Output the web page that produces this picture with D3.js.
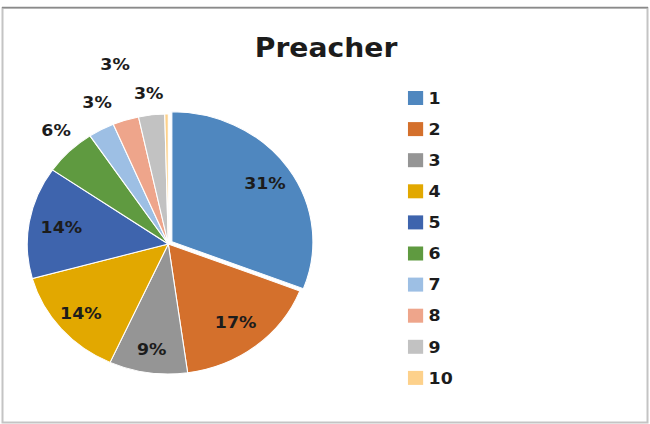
<!DOCTYPE html>
<html>
<head>
<meta charset="utf-8">
<script src="https://cdn.jsdelivr.net/npm/d3@7"></script>
<style>
  body { margin: 0; background: #fff; }
  svg text { font-family: "DejaVu Sans", Verdana, sans-serif; font-weight: bold; fill: #1c1c1c; }
</style>
</head>
<body>
<div id="chart"></div>
<script>
// chart values
var categories = ["1", "2", "3", "4", "5", "6", "7", "8", "9", "10"];
var values = [31, 17, 9, 14, 14, 6, 3, 3, 3, 0.4];
var colors = ["#4f87bf", "#d4702c", "#959595", "#e2a800", "#3e64ad", "#5f9a40",
              "#9dbfe4", "#eea58b", "#c2c2c2", "#fdd18b"];
var title = "Preacher";

var svgWidth = 650;
var svgHeight = 424;

// the original picture is stretched a bit horizontally
var stretch = 1.085;

var svg = d3.select("#chart")
    .append("svg")
    .attr("width", svgWidth)
    .attr("height", svgHeight);

// frame
svg.append("rect")
    .attr("x", 2.5)
    .attr("y", 8)
    .attr("width", 645)
    .attr("height", 414.5)
    .attr("fill", "none")
    .attr("stroke", "#c4c4c4")
    .attr("stroke-width", 2);
svg.append("line")
    .attr("x1", 2).attr("x2", 648)
    .attr("y1", 7.5).attr("y2", 7.5)
    .attr("stroke", "#8a8a8a")
    .attr("stroke-width", 1.5);

var g = svg.append("g")
    .attr("transform", `scale(${stretch}, 1)`);

g.append("text")
    .attr("x", 300.5)
    .attr("y", 57)
    .attr("text-anchor", "middle")
    .attr("font-size", "26px")
    .text(title);

var radius = 130;
var cx = 155.1, cy = 244;

var total = d3.sum(values);
var data = categories.map((c, i) => ({ cat: c, value: values[i], color: colors[i] }));

var pie = d3.pie()
    .sort(null)
    .value(d => d.value);

var arcs = pie(data);

var arc = d3.arc()
    .innerRadius(0)
    .outerRadius(radius);

var pieGroup = g.append("g")
    .attr("transform", `translate(${cx}, ${cy})`);

// first slice is pulled out a little
var explode = [4, 0, 0, 0, 0, 0, 0, 0, 0, 0];

pieGroup.selectAll("path")
    .data(arcs)
    .enter()
    .append("path")
    .attr("d", arc)
    .attr("fill", d => d.data.color)
    .attr("stroke", "#fff")
    .attr("stroke-width", 1)
    .attr("transform", (d, i) => {
        var a = (d.startAngle + d.endAngle) / 2;
        return `translate(${Math.sin(a) * explode[i]}, ${-Math.cos(a) * explode[i]})`;
    });

// label distance from the centre, and a small angle nudge, for each slice
var labelRadius = [104, 100, 106, 106, 100, 154, 156, 186, 152, 150];
var labelNudge = [0, 0, 0, 0, 0, 0.04, 0.06, 0.04, 0, 0];

pieGroup.selectAll(".lbl")
    .data(arcs.filter(d => Math.round(d.value / total * 100) > 0))
    .enter()
    .append("text")
    .attr("class", "lbl")
    .attr("transform", d => {
        var i = d.index;
        var r = labelRadius[i];
        var a = (d.startAngle + d.endAngle) / 2;
        var la = a + labelNudge[i];
        var x = Math.sin(la) * r + Math.sin(a) * explode[i];
        var y = -Math.cos(la) * r - Math.cos(a) * explode[i];
        return `translate(${x}, ${y})`;
    })
    .attr("text-anchor", "middle")
    .attr("dy", "0.36em")
    .attr("font-size", "16px")
    .text(d => Math.round(d.value / total * 100) + "%");

// legend
var legend = g.append("g")
    .attr("transform", "translate(376, 98)");

var legendItems = legend.selectAll("g")
    .data(data)
    .enter()
    .append("g")
    .attr("transform", (d, i) => `translate(0, ${i * 31.1})`);

legendItems.append("rect")
    .attr("x", 0)
    .attr("y", -7)
    .attr("width", 14)
    .attr("height", 14)
    .attr("fill", d => d.color);

legendItems.append("text")
    .attr("x", 19)
    .attr("y", 0)
    .attr("dy", "0.36em")
    .attr("font-size", "16px")
    .text(d => d.cat);
</script>
</body>
</html>
